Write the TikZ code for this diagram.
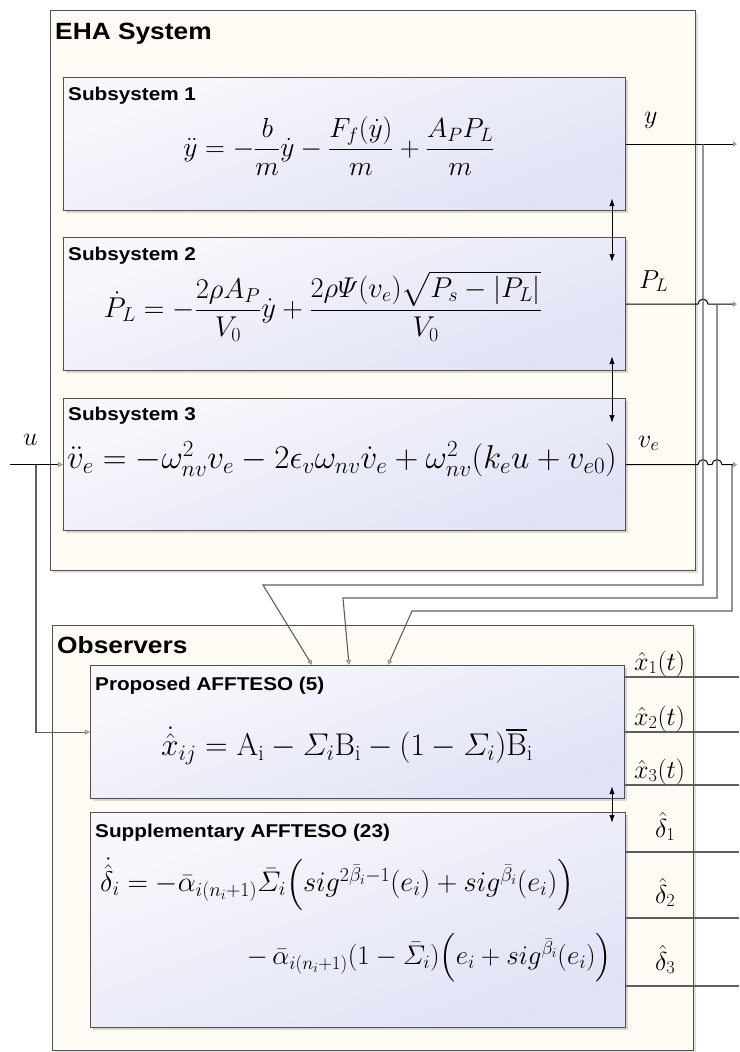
\RequirePackage{fix-cm}
\documentclass[tikz,border=0pt]{standalone}
\usepackage{amsmath}
\usepackage{amssymb}
\usepackage{fontspec}
\usepackage{xcolor}
\usetikzlibrary{arrows.meta,shadows,calc}
\newfontfamily\labelfont[FakeStretch=1.12]{Liberation Sans}

\definecolor{outerfill}{RGB}{253,251,243}
\definecolor{innerfill}{RGB}{224,226,246}
\definecolor{innerlight}{RGB}{248,248,252}
\definecolor{framegray}{RGB}{80,80,80}
\definecolor{wiregray}{RGB}{95,95,95}
\definecolor{tipgray}{RGB}{150,150,150}

\tikzset{
  groupbox/.style={draw=framegray, line width=1.2pt, fill=outerfill, anchor=north west,
    inner sep=0pt, drop shadow={opacity=0.25, shadow xshift=2pt, shadow yshift=-2pt}},
  subbox/.style={draw=framegray, line width=1.2pt, top color=innerlight, bottom color=innerfill,
    shading angle=20, anchor=north west, inner sep=0pt,
    drop shadow={opacity=0.3, shadow xshift=2pt, shadow yshift=-2pt}},
  grouptitle/.style={anchor=base west, inner sep=0pt, font=\labelfont\bfseries\fontsize{23.5}{28}\selectfont},
  subtitle/.style={anchor=base west, inner sep=0pt, font=\labelfont\bfseries\fontsize{18.5}{22}\selectfont},
  eqn/.style={inner sep=0pt},
  portlabel/.style={anchor=base west, inner sep=0pt, font=\fontsize{26}{30}\selectfont},
  wire/.style={draw=black, line width=1pt},
  branch/.style={draw=wiregray, line width=1.1pt},
  inport/.style={-{Triangle[open, length=5pt, width=5pt, color=tipgray]}},
  outport/.style={-{Triangle[open, length=4pt, width=5pt, color=tipgray]}},
  dblarrow/.style={{Latex[length=8pt,width=5.5pt]}-{Latex[length=8pt,width=5.5pt]}, line width=1pt}
}

\begin{document}
\begin{tikzpicture}[x=1pt,y=-1pt]
  % canvas
  \useasboundingbox[fill=white] (0,0) rectangle (739,1052);

  % EHA system
  \node[groupbox, minimum width=645pt, minimum height=560pt] (eha) at (50,10) {};
  \node[grouptitle] (ehatitle) at ([xshift=5pt,yshift=-29pt]eha.north west) {EHA System};

  \node[subbox, minimum width=562pt, minimum height=133pt] (sub1) at (63,77) {};
  \node[subbox, minimum width=562pt, minimum height=133pt] (sub2) at (63,237) {};
  \node[subbox, minimum width=562pt, minimum height=132pt] (sub3) at (63,398) {};
  \node[subtitle] (sub1title) at ([xshift=5pt,yshift=-23pt]sub1.north west) {Subsystem 1};
  \node[subtitle] (sub2title) at ([xshift=5pt,yshift=-23pt]sub2.north west) {Subsystem 2};
  \node[subtitle] (sub3title) at ([xshift=5pt,yshift=-22pt]sub3.north west) {Subsystem 3};

  \node[eqn, font=\fontsize{27.6}{31}\selectfont] (eq1) at (339,146)
    {$\displaystyle \ddot{y} = -\frac{b}{m}\dot{y} - \frac{F_f(\dot{y})}{m} + \frac{A_P P_L}{m}$};
  \node[eqn, font=\fontsize{28.6}{32}\selectfont] (eq2) at (323,306)
    {$\displaystyle \dot{P}_L = -\frac{2\rho A_P}{V_0}\dot{y} + \frac{2\rho\varPsi(v_e)\sqrt{P_s-|P_L|}}{V_0}$};
  \node[eqn, font=\fontsize{33}{37}\selectfont] (eq3) at (342,459)
    {$\ddot{v}_e = -\omega_{nv}^2 v_e - 2\epsilon_v\omega_{nv}\dot{v}_e + \omega_{nv}^2(k_e u + v_{e0})$};

  % observers
  \node[groupbox, minimum width=641pt, minimum height=425pt] (obs) at (52,625) {};
  \node[grouptitle] (obstitle) at ([xshift=5pt,yshift=-28pt]obs.north west) {Observers};

  \node[subbox, minimum width=534pt, minimum height=133pt] (prop) at (90,665) {};
  \node[subbox, minimum width=535pt, minimum height=215pt] (supp) at (90,812) {};
  \node[subtitle] (proptitle) at ([xshift=5pt,yshift=-25pt]prop.north west) {Proposed AFFTESO (5)};
  \node[subtitle] (supptitle) at ([xshift=5pt,yshift=-25pt]supp.north west) {Supplementary AFFTESO (23)};

  \node[eqn, font=\fontsize{31.4}{35}\selectfont] (eq4) at (347,746)
    {$\dot{\hat{x}}_{ij} = \mathrm{A}_\mathrm{i} - \varSigma_i\mathrm{B}_\mathrm{i} - (1-\varSigma_i)\overline{\mathrm{B}}_\mathrm{i}$};
  \node[eqn, anchor=west, font=\fontsize{28.4}{32}\selectfont] (eq5) at (100,884)
    {$\dot{\hat{\delta}}_i = -\bar{\alpha}_{i(n_i+1)}\bar{\varSigma}_i\Bigl(sig^{2\bar{\beta}_i-1}(e_i) + sig^{\bar{\beta}_i}(e_i)\Bigr)$};
  \node[eqn, anchor=east, font=\fontsize{27}{31}\selectfont] (eq6) at (612,958)
    {$-\,\bar{\alpha}_{i(n_i+1)}(1-\bar{\varSigma}_i)\Bigl(e_i + sig^{\bar{\beta}_i}(e_i)\Bigr)$};

  % couplings between blocks
  \coordinate (dbl) at (612,0);
  \draw[dblarrow] ($(dbl |- sub1.south)+(0,-13)$) -- ($(dbl |- sub2.north)+(0,25)$);
  \draw[dblarrow] ($(dbl |- sub2.south)+(0,-15)$) -- ($(dbl |- sub3.north)+(0,25)$);
  \draw[dblarrow] ($(dbl |- prop.south)+(0,-13)$) -- ($(dbl |- supp.north)+(0,11)$);

  % outputs of the EHA system
  \coordinate (redge) at (737,0);
  \coordinate (ybr) at (703,585);
  \coordinate (plbr) at (717,598);
  \coordinate (vebr) at (732,611);
  \draw[wire, outport] (sub1.east) -- (redge |- sub1.east);
  \draw[wire, outport] (sub2.east) -- ($(ybr |- sub2.east)+(-5,0)$)
    arc[start angle=180, end angle=360, radius=5] -- (redge |- sub2.east);
  \draw[wire, outport] (sub3.east) -- ($(ybr |- sub3.east)+(-5,0)$)
    arc[start angle=180, end angle=360, radius=5] -- ($(plbr |- sub3.east)+(-5,0)$)
    arc[start angle=180, end angle=360, radius=5] -- (redge |- sub3.east);
  \node[portlabel] (ylab) at (644,123) {$y$};
  \node[portlabel] (pllab) at (639,288) {$P_L$};
  \node[portlabel] (velab) at (638,447) {$v_e$};

  % measured signals fed back to the observer
  \coordinate (pin1) at (312,665);
  \coordinate (pin2) at (349,665);
  \coordinate (pin3) at (388,665);
  \draw[branch, inport] (ybr |- sub1.east) -- (ybr) -- (263,585) -- (pin1);
  \draw[branch, inport] (plbr |- sub2.east) -- (plbr) -- (343,598) -- (pin2);
  \draw[branch, inport] (vebr |- sub3.east) -- (vebr) -- (412,611) -- (pin3);

  % control input
  \coordinate (ubr) at (36,0);
  \draw[wire, inport] (10,0 |- sub3.west) -- (sub3.west);
  \draw[branch, inport] (ubr |- sub3.west) -- (ubr |- prop.west) -- (prop.west);
  \node[portlabel] (ulab) at (23,445) {$u$};

  % observer outputs
  \draw[branch] (prop.east |- 0,677) -- (739,677);
  \draw[branch] (prop.east |- 0,732) -- (739,732);
  \draw[branch] (prop.east |- 0,785) -- (739,785);
  \draw[branch] (supp.east |- 0,852) -- (739,852);
  \draw[branch] (supp.east |- 0,918) -- (739,918);
  \draw[branch] (supp.east |- 0,986) -- (739,986);
  \node[portlabel] (x1lab) at (634,670) {$\hat{x}_1(t)$};
  \node[portlabel] (x2lab) at (634,725) {$\hat{x}_2(t)$};
  \node[portlabel] (x3lab) at (634,778) {$\hat{x}_3(t)$};
  \node[portlabel] (d1lab) at (655,837) {$\hat{\delta}_1$};
  \node[portlabel] (d2lab) at (655,903) {$\hat{\delta}_2$};
  \node[portlabel] (d3lab) at (655,970) {$\hat{\delta}_3$};
\end{tikzpicture}
\end{document}
